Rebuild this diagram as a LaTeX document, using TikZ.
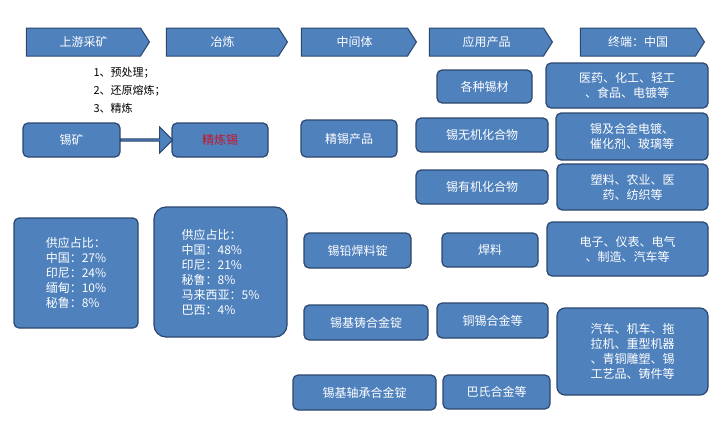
\documentclass[tikz,border=0pt]{standalone}
\usepackage{fontspec}
\setmainfont{Noto Sans CJK SC}
\usetikzlibrary{shapes.symbols,shapes.arrows}
\definecolor{tinblue}{RGB}{79,129,189}
\definecolor{tinedge}{RGB}{44,70,110}
\definecolor{tinred}{RGB}{200,20,40}

\begin{document}
\begin{tikzpicture}[x=1pt, y=-1pt,
    tinbox/.style={rectangle, draw=tinedge, line width=1.2pt, fill=tinblue, text=white, rounded corners=5pt, align=center, inner sep=2pt, font=\fontsize{12}{15}\selectfont},
    stage/.style={signal, signal to=east, signal pointer angle=115, draw=tinedge, line width=1pt, fill=tinblue, text=white, minimum height=28pt, inner sep=0pt, font=\fontsize{12}{15}\selectfont}]
    \useasboundingbox (0,0) rectangle (720,442);

    % stages
    \node[stage, minimum width=123pt] (up) at (83.5,42) {上游采矿};
    \node[stage, minimum width=121pt] (smelt) at (222.5,42) {冶炼};
    \node[stage, minimum width=115pt] (mid) at (354.5,42) {中间体};
    \node[stage, minimum width=123pt] (app) at (486.5,42) {应用产品};
    \node[stage, minimum width=124pt] (end) at (638,42) {终端：中国};

    % smelting steps
    \node[anchor=north west, align=left, font=\fontsize{11}{18}\selectfont] (steps) at (90,64) {1、预处理；\\2、还原熔炼；\\3、精炼};

    % upstream
    \node[tinbox, minimum width=97pt, minimum height=34pt] (ore) at (71.5,140) {锡矿};
    \node[tinbox, minimum width=96pt, minimum height=34pt, text=tinred] (refined) at (220,140) {精炼锡};
    \node[single arrow, draw=tinedge, fill=tinblue, line width=1pt, minimum height=52pt, minimum width=26pt, single arrow head extend=5pt, inner sep=0pt] (oretorefined) at (146,140) {};
    \node[tinbox, minimum width=124pt, minimum height=110pt, align=left] (share1) at (76,273) {供应占比：\\中国：27\%\\印尼：24\%\\缅甸：10\%\\秘鲁：8\%};
    \node[tinbox, minimum width=133pt, minimum height=130pt, align=left, rounded corners=12pt] (share2) at (220.5,272) {供应占比：\\中国：48\%\\印尼：21\%\\秘鲁：8\%\\马来西亚：5\%\\巴西：4\%};

    % intermediates
    \node[tinbox, minimum width=96pt, minimum height=37pt] (pure) at (349,138.5) {精锡产品};
    \node[tinbox, minimum width=107pt, minimum height=35pt] (solderbar) at (357.5,250.5) {锡铅焊料锭};
    \node[tinbox, minimum width=124pt, minimum height=35pt] (castbar) at (366,322.5) {锡基铸合金锭};
    \node[tinbox, minimum width=143pt, minimum height=35pt] (bearbar) at (364.5,392.5) {锡基轴承合金锭};

    % products
    \node[tinbox, minimum width=95pt, minimum height=33pt] (tinmat) at (484.5,86.5) {各种锡材};
    \node[tinbox, minimum width=132pt, minimum height=34pt] (inorg) at (482,135) {锡无机化合物};
    \node[tinbox, minimum width=132pt, minimum height=34pt] (org) at (482,187) {锡有机化合物};
    \node[tinbox, minimum width=96pt, minimum height=34pt] (solder) at (490,250) {焊料};
    \node[tinbox, minimum width=111pt, minimum height=35pt] (bronze) at (492.5,320.5) {铜锡合金等};
    \node[tinbox, minimum width=107pt, minimum height=34pt] (babbitt) at (496.5,392) {巴氏合金等};

    % end uses
    \node[tinbox, minimum width=162pt, minimum height=45pt] (use1) at (627,85.5) {医药、化工、轻工\\、食品、电镀等};
    \node[tinbox, minimum width=152pt, minimum height=47pt] (use2) at (632,136.5) {锡及合金电镀、\\催化剂、玻璃等};
    \node[tinbox, minimum width=151pt, minimum height=46pt] (use3) at (632.5,187) {塑料、农业、医\\药、纺织等};
    \node[tinbox, minimum width=161pt, minimum height=54pt] (use4) at (627.5,249) {电子、仪表、电气\\、制造、汽车等};
    \node[tinbox, minimum width=151pt, minimum height=87pt, rounded corners=8pt] (use5) at (632.5,351.5) {汽车、机车、拖\\拉机、重型机器\\、青铜雕塑、锡\\工艺品、铸件等};
\end{tikzpicture}
\end{document}
